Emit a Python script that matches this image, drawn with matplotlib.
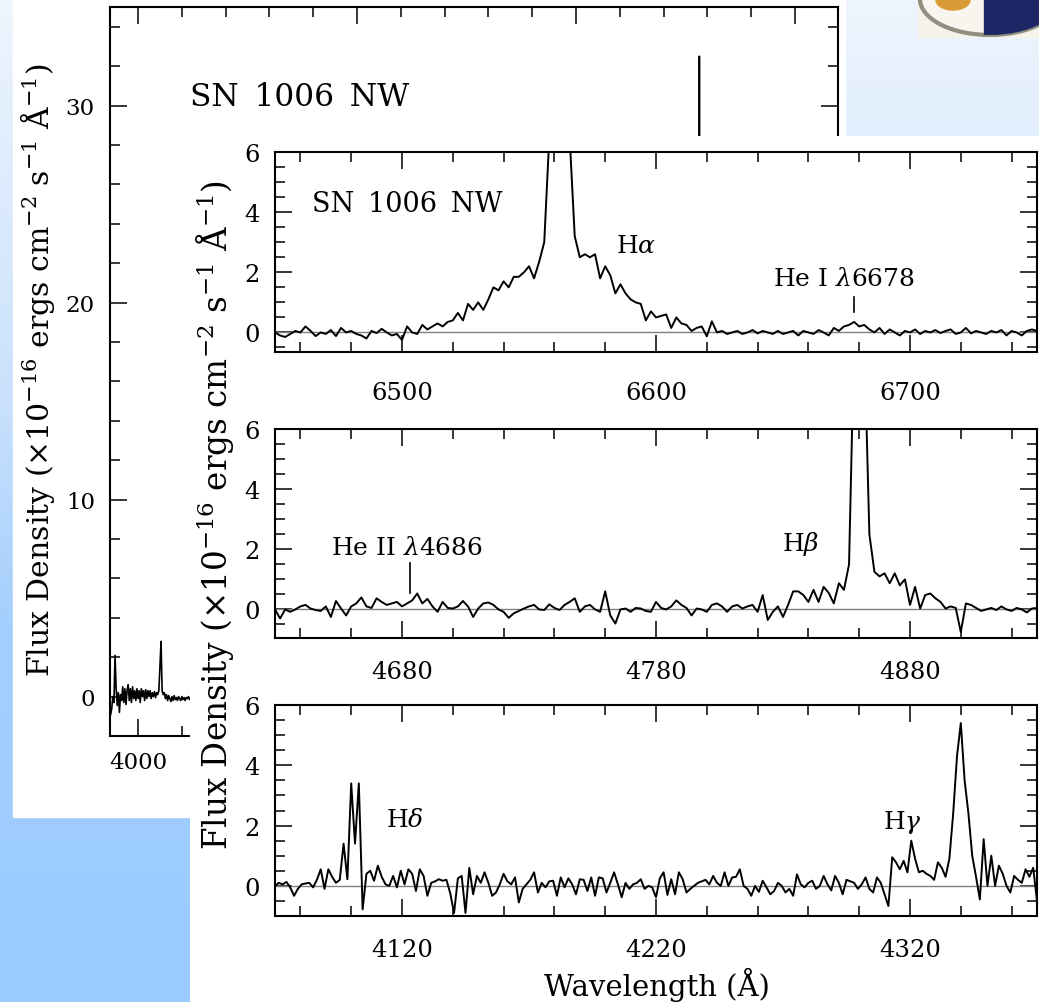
import numpy as np
import matplotlib.pyplot as plt
from matplotlib.colors import LinearSegmentedColormap
from matplotlib.patches import Rectangle, Ellipse
from matplotlib.ticker import MultipleLocator

plt.rcParams['font.family'] = 'DejaVu Serif'
plt.rcParams['mathtext.fontset'] = 'dejavuserif'

# ---- values ----
# full-range spectrum behind (only the blue end and the H-alpha spike show)
back_wave = np.arange(3875, 4241, 5)
back_flux = [-0.9, -0.6, 0.0, -0.3, 2.1, 0.4, -0.45, 0.2, -0.8, 0.1,
             -0.2, 0.5, -0.3, 0.4, -0.4, 0.3, 0.6, -0.2, 0.4, -0.3,
             0.5, -0.1, 0.3, -0.2, 0.4, -0.1, 0.3, -0.3, 0.4, 0.0,
             0.3, -0.2, 0.35, -0.1, 0.3, 0.0, 0.3, -0.1, 0.2, 0.0,
             0.25, -0.05, 0.2, 0.1, 0.3, 1.5, 2.8, 0.3, 0.1, 0.2,
             -0.1, 0.1, -0.2, 0.05, -0.1, -0.25, 0.0, -0.2, 0.05, -0.15,
             -0.05, -0.2, 0.0, -0.1, -0.2, 0.0, -0.15, -0.05, -0.2, -0.05,
             -0.1, 0.0, -0.15, -0.05]
back_ha_wave = [6540, 6555, 6560, 6563, 6566, 6571, 6590]
back_ha_flux = [1.0, 2.5, 10.0, 32.5, 10.0, 2.5, 1.0]

# H-alpha window
ha_wave = np.arange(6450, 6751, 2)
ha_flux = [0.0, -0.1, -0.15, -0.05, 0.05, 0.0, 0.2, 0.05, -0.12, 0.0,
           -0.05, 0.08, -0.12, 0.15, 0.0, 0.05, -0.05, -0.1, -0.2, 0.05,
           -0.02, 0.12, 0.0, -0.1, -0.05, -0.25, 0.2, 0.0, -0.05, 0.25,
           0.1, 0.2, 0.3, 0.2, 0.35, 0.4, 0.65, 0.4, 0.95, 0.75,
           1.0, 0.75, 1.1, 1.5, 1.4, 1.7, 1.5, 1.85, 1.85, 2.0,
           2.2, 1.8, 2.35, 3.0, 6.5, 20.0, 30.0, 20.0, 6.5, 3.2,
           2.5, 2.6, 2.5, 2.6, 1.8, 2.2, 1.9, 1.3, 1.6, 1.3,
           1.1, 1.0, 0.95, 0.4, 0.7, 0.5, 0.55, 0.6, 0.15, 0.5,
           0.3, 0.25, 0.05, 0.15, 0.2, -0.13, 0.37, 0.0, 0.05, -0.05,
           0.0, 0.05, -0.05, 0.0, 0.08, -0.03, 0.05, 0.0, -0.05, 0.05,
           -0.05, 0.0, 0.05, -0.1, 0.05, 0.0, -0.05, 0.08, 0.0, -0.1,
           0.15, 0.05, 0.2, 0.25, 0.35, 0.2, 0.25, 0.1, 0.0, 0.15,
           -0.05, 0.1, 0.0, -0.1, 0.05, 0.0, 0.1, -0.05, 0.05, 0.0,
           0.08, -0.02, 0.05, 0.1, -0.05, 0.0, 0.15, -0.03, 0.05, 0.0,
           -0.05, 0.05, 0.0, 0.08, -0.1, 0.05, 0.0, -0.1, 0.05, 0.1,
           0.05]

# H-beta window
hb_wave = np.arange(4630, 4931, 2)
hb_flux = [0.0, -0.3, 0.0, -0.08, 0.0, 0.1, 0.15, 0.03, -0.02, -0.05,
           0.1, -0.25, 0.28, 0.03, -0.2, 0.1, 0.2, 0.4, 0.1, 0.05,
           0.37, 0.25, 0.15, 0.2, 0.25, 0.1, 0.2, 0.3, 0.53, 0.2,
           0.35, 0.1, -0.08, 0.25, 0.05, 0.03, 0.1, 0.28, 0.1, -0.25,
           0.03, 0.2, 0.23, 0.15, 0.0, -0.08, -0.28, -0.13, -0.05, 0.03,
           0.1, 0.15, 0.0, -0.02, 0.17, 0.05, -0.02, 0.15, 0.25, 0.37,
           -0.08, 0.1, 0.15, 0.0, -0.08, 0.6, -0.2, -0.47, 0.0, 0.03,
           -0.08, 0.05, 0.03, -0.05, -0.08, 0.25, 0.05, 0.0, 0.1, 0.3,
           0.15, 0.05, -0.2, 0.03, 0.0, -0.08, 0.15, 0.2, 0.1, -0.08,
           0.1, 0.15, 0.03, 0.1, 0.15, -0.08, 0.48, -0.35, -0.08, 0.1,
           -0.25, 0.15, 0.6, 0.6, 0.48, 0.25, 0.65, 0.25, 0.75, 0.55,
           0.2, 0.87, 0.65, 1.5, 9.0, 15.0, 9.0, 2.5, 1.25, 1.1,
           1.2, 0.87, 1.2, 0.8, 1.0, 0.15, 0.75, 0.03, 0.48, 0.53,
           0.37, 0.25, 0.03, 0.1, 0.05, -0.75, 0.2, 0.15, 0.05, -0.05,
           0.0, 0.05, -0.02, 0.1, 0.0, -0.05, 0.05, 0.0, -0.1, 0.03,
           0.05]

# H-delta / H-gamma window
hg_wave = np.arange(4070, 4370.1, 1.5)
hg_flux = [0.0, 0.1, 0.05, 0.13, -0.05, -0.33, -0.1, 0.05, 0.08, 0.1,
           -0.05, 0.2, 0.55, -0.1, 0.55, 0.3, 0.1, 0.2, 1.4, 0.22,
           3.4, 1.4, 3.4, -0.78, 0.4, 0.5, 0.17, 0.67, 0.3, 0.05,
           0.0, 0.33, -0.05, 0.5, 0.05, 0.55, 0.4, -0.17, 0.55, 0.33,
           -0.33, 0.1, 0.15, 0.22, 0.17, 0.2, -0.25, -0.9, 0.25, 0.33,
           -0.9, 0.6, -0.28, 0.33, 0.1, 0.45, 0.1, -0.33, -0.22, 0.05,
           0.4, 0.15, 0.05, 0.28, -0.55, -0.1, 0.05, 0.2, 0.45, -0.22,
           0.1, -0.05, 0.15, 0.17, -0.33, 0.28, -0.05, 0.25, 0.05, -0.28,
           0.22, 0.2, -0.17, 0.28, -0.33, 0.28, 0.25, -0.22, 0.1, 0.45,
           0.05, -0.38, 0.1, -0.1, 0.05, 0.1, 0.22, -0.1, 0.0, -0.05,
           -0.38, 0.25, 0.45, -0.3, 0.22, -0.28, 0.45, 0.22, -0.22, -0.1,
           0.0, 0.1, 0.15, 0.2, 0.05, 0.33, 0.1, 0.0, 0.45, 0.0,
           0.28, 0.3, 0.55, 0.0, -0.1, -0.33, 0.0, -0.2, 0.17, -0.05,
           -0.28, -0.17, 0.1, 0.0, -0.22, -0.1, -0.33, 0.38, 0.05, -0.05,
           0.1, 0.17, -0.1, 0.0, 0.33, 0.05, -0.15, 0.33, 0.1, -0.28,
           0.2, 0.15, 0.1, -0.1, 0.05, 0.28, -0.1, -0.22, 0.28, 0.1,
           -0.28, -0.67, 0.95, 0.78, 0.55, 0.83, 0.45, 1.5, 0.9, 0.45,
           0.5, 0.4, 0.33, 0.2, 0.78, 0.6, 0.3, 0.9, 2.4, 4.3,
           5.4, 3.5, 2.4, 1.0, 0.3, -0.45, 1.55, 0.0, 1.0, 0.0,
           0.67, 0.4, 0.0, -0.22, 0.33, 0.2, 0.1, 0.55, 0.3, 0.6,
           -0.5]

ha_ticks = [6500, 6600, 6700]
hb_ticks = [4680, 4780, 4880]
hg_ticks = [4120, 4220, 4320]

ha_labels = [(r'H$\alpha$', 6592, 2.9), (r'He I $\lambda$6678', 6674, 1.8)]
hb_labels = [(r'H$\beta$', 4837, 2.2), (r'He II $\lambda$4686', 4682, 2.05)]
hg_labels = [(r'H$\delta$', 4121, 2.2), (r'H$\gamma$', 4317, 2.15)]
ha_marks = [(6678, 0.67, 1.17)]
hb_marks = [(4683, 0.53, 1.53)]

ylab = r'Flux Density ($\times$10$^{-16}$ ergs cm$^{-2}$ s$^{-1}$ Å$^{-1}$)'
title = 'SN\u20021006\u2002NW'

W, H = 1039, 1003
fig = plt.figure(figsize=(W / 100, H / 100), dpi=100)


def px_axes(x0, y0, x1, y1, **kw):
    return fig.add_axes([x0 / W, 1 - y1 / H, (x1 - x0) / W, (y1 - y0) / H], **kw)


def fig_text(x, y, s, **kw):
    fig.text(x / W, 1 - y / H, s, **kw)


def style_ticks(ax, size):
    ax.tick_params(which='both', direction='in', top=True, right=True,
                   width=1.1, labelsize=size, colors='black')
    ax.tick_params(which='major', length=12)
    ax.tick_params(which='minor', length=7)
    for s in ax.spines.values():
        s.set_linewidth(1.5)


# slide background
bg = px_axes(0, 0, W, H, zorder=0)
cmap = LinearSegmentedColormap.from_list(
    'slide', [(0, '#eef5fe'), (0.4, '#c9e1fc'), (0.62, '#a5cffd'), (1, '#99cbff')])
bg.imshow(np.linspace(0, 1, 256)[:, None], cmap=cmap, extent=[0, W, H, 0], aspect='auto')
bg.set_xlim(0, W)
bg.set_ylim(H, 0)
bg.axis('off')
bg.add_patch(Rectangle((13, 0), 832, 818, color='white'))

# logo, top right
bg.add_patch(Rectangle((918, 0), 121, 38, color='#f4f2ea'))
ring = Ellipse((990, 0), 140, 72, facecolor='#f7f5ee', edgecolor='#8f8f80', lw=3)
bg.add_patch(ring)
bg.add_patch(Ellipse((953, 1), 34, 20, color='#d99a35'))
navy = Rectangle((984, -40), 70, 80, color='#1d2766')
bg.add_patch(navy)
navy.set_clip_path(ring)

# back figure
axb = px_axes(110, 8, 838, 737, zorder=1)
axb.plot(back_wave, back_flux, color='black', lw=1.2)
axb.plot(back_ha_wave, back_ha_flux, color='black', lw=1.2)
axb.set_xlim(3872, 7196)
axb.set_ylim(-2, 35)
axb.xaxis.set_major_locator(MultipleLocator(1000))
axb.xaxis.set_minor_locator(MultipleLocator(200))
axb.yaxis.set_major_locator(MultipleLocator(10))
axb.yaxis.set_minor_locator(MultipleLocator(2))
style_ticks(axb, 16.5)
axb.tick_params(axis='x', pad=11)
axb.tick_params(axis='y', pad=11)
fig_text(190, 97, title, fontsize=22.5, ha='left', va='center')
fig_text(38, 370, ylab, fontsize=21.5, rotation=90, ha='center', va='center')

# white sheet of the front figure
cover = px_axes(190, 137, W, H, zorder=2)
cover.set_facecolor('white')
cover.set_xticks([])
cover.set_yticks([])
for s in cover.spines.values():
    s.set_visible(False)

panels = [
    (ha_wave, ha_flux, (6450, 6750), (-0.65, 6), 153, 353, ha_ticks, 21, ha_labels, ha_marks),
    (hb_wave, hb_flux, (4630, 4930), (-0.95, 6), 430, 639, hb_ticks, 16, hb_labels, hb_marks),
    (hg_wave, hg_flux, (4070, 4370), (-1.0, 6), 706, 917, hg_ticks, 16, hg_labels, []),
]

for wave, flux, xlim, ylim, top, bottom, ticks, xpad, labels, marks in panels:
    ax = px_axes(275, top, 1037, bottom, zorder=3)
    ax.set_facecolor('none')
    ax.axhline(0, color='0.5', lw=1)
    ax.plot(wave, flux, color='black', lw=1.4)
    ax.set_xlim(xlim)
    ax.set_ylim(ylim)
    ax.set_xticks(ticks)
    ax.xaxis.set_minor_locator(MultipleLocator(20))
    ax.yaxis.set_major_locator(MultipleLocator(2))
    ax.yaxis.set_minor_locator(MultipleLocator(0.5))
    style_ticks(ax, 17.5)
    ax.tick_params(axis='x', pad=xpad)
    ax.tick_params(axis='y', pad=11)
    for text, x, y in labels:
        ax.text(x, y, text, fontsize=18, ha='center', va='center')
    for x, y0, y1 in marks:
        ax.plot([x, x], [y0, y1], color='black', lw=1.2)

fig_text(312, 204, title, fontsize=19.5, ha='left', va='center')
fig_text(215, 515, ylab, fontsize=23.5, rotation=90, ha='center', va='center')
fig_text(657, 985, 'Wavelength (Å)', fontsize=21, ha='center', va='center')

fig.savefig('out.png', dpi=100)
